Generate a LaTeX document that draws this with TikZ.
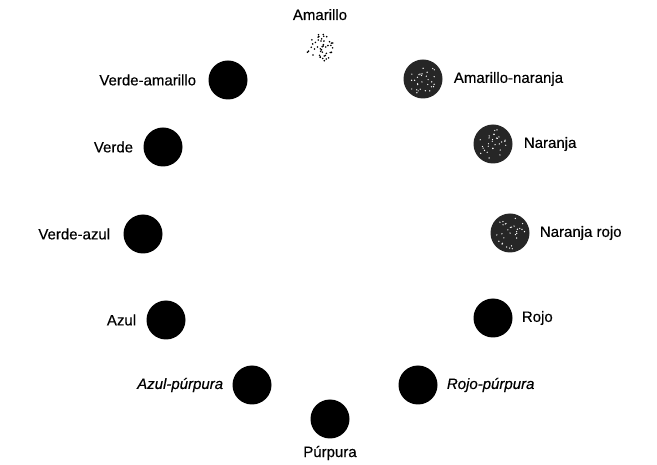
\documentclass[tikz,border=0pt]{standalone}
\usepackage{fontspec}
\setmainfont{Liberation Sans}[FakeBold=0.35]
\usetikzlibrary{calc}
\begin{document}
\begin{tikzpicture}[x=1pt,y=-1pt,
  dot/.style={circle,fill=black,minimum size=39pt,inner sep=0pt},
  lab/.style={font=\fontsize{15}{17}\selectfont,inner sep=0pt},
  slab/.style={lab,font=\fontsize{15}{17}\selectfont\itshape}]
\useasboundingbox (0,0) rectangle (657,465);
% circles
\node[dot,fill=none,minimum size=34pt] (am) at (320,48) {};
\node[dot] (va) at (228,80) {};
\node[dot,fill=black!85] (an) at (423,79) {};
\node[dot] (ve) at (163,147) {};
\node[dot,fill=black!85] (na) at (493,144) {};
\node[dot] (vz) at (143,234) {};
\node[dot,fill=black!85] (nr) at (510,233) {};
\node[dot] (az) at (166,320) {};
\node[dot] (ro) at (493,318) {};
\node[dot] (ap) at (252,385) {};
\node[dot] (rp) at (418,385) {};
\node[dot] (pu) at (330,419) {};
% speckles
\pgfmathsetseed{7}
\foreach \i in {1,...,45}{
  \pgfmathsetmacro{\rr}{14*sqrt(rnd)}
  \pgfmathsetmacro{\aa}{360*rnd}
  \fill[black] ($(am)+(\aa:\rr)$) circle (0.9pt);
}
\foreach \c in {an,na,nr}{
  \foreach \i in {1,...,30}{
    \pgfmathsetmacro{\rr}{16*sqrt(rnd)}
    \pgfmathsetmacro{\aa}{360*rnd}
    \fill[white] ($(\c)+(\aa:\rr)$) circle (0.7pt);
  }
}
% labels
\node[lab,anchor=base] (tam) at (320,20) {Amarillo};
\node[lab,anchor=east] (tva) at ([xshift=-12pt]va.west) {Verde-amarillo};
\node[lab,anchor=west] (tan) at ([xshift=11pt]an.east) {Amarillo-naranja};
\node[lab,anchor=east] (tve) at ([xshift=-10pt]ve.west) {Verde};
\node[lab,anchor=west] (tna) at ([xshift=11pt]na.east) {Naranja};
\node[lab,anchor=east] (tvz) at ([xshift=-13pt]vz.west) {Verde-azul};
\node[lab,anchor=west] (tnr) at ([xshift=10pt]nr.east) {Naranja rojo};
\node[lab,anchor=east] (taz) at ([xshift=-10pt]az.west) {Azul};
\node[lab,anchor=west] (tro) at ([xshift=9pt]ro.east) {Rojo};
\node[slab,anchor=east] (tap) at ([xshift=-9pt]ap.west) {Azul-púrpura};
\node[slab,anchor=west] (trp) at ([xshift=9pt]rp.east) {Rojo-púrpura};
\node[lab,anchor=base] (tpu) at (330,457) {Púrpura};
\end{tikzpicture}
\end{document}
